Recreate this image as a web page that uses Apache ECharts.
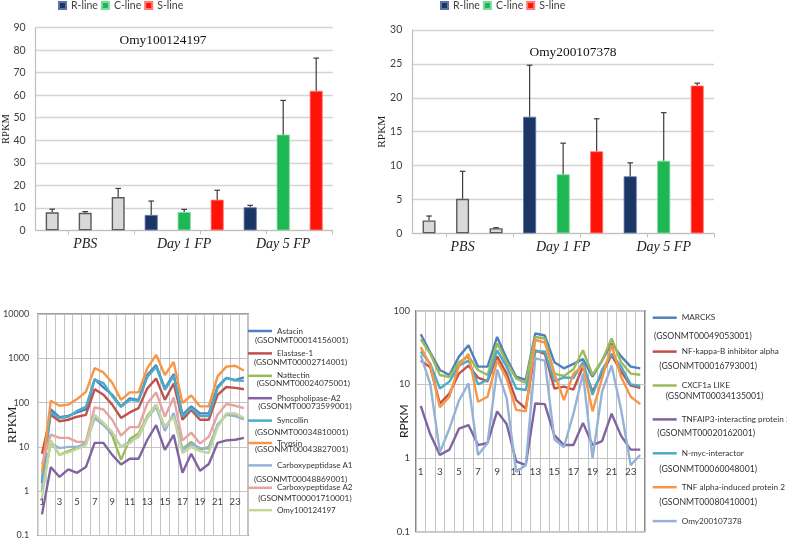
<!DOCTYPE html>
<html><head><meta charset="utf-8">
<script src="https://cdn.jsdelivr.net/npm/echarts@6/dist/echarts.min.js"></script>
<style>html,body{margin:0;padding:0;background:#fff}#c{width:787px;height:540px}</style>
</head><body><div id="c"></div>
<script>
// ---------- DATA ----------
const groupLabels = ['', 'PBS', '', '', 'Day 1 FP', '', '', 'Day 5 FP', ''];
const lineNames = ['R-line', 'C-line', 'S-line'];
const slotGroup = [0, 0, 0, 1, 2, 3, 1, 2, 3]; // 0 = PBS (grey), 1 = R, 2 = C, 3 = S

const gene1Title = 'Omy100124197';
const gene1Mean = [8.0, 7.8, 14.8, 6.8, 8.1, 13.6, 10.2, 42.5, 62.0];
const gene1Sd   = [1.4, 0.5, 3.8, 6.2, 1.2, 4.2, 0.9, 15.2, 14.5];

const gene2Title = 'Omy200107378';
const gene2Mean = [1.9, 5.1, 0.75, 17.2, 8.7, 12.1, 8.4, 10.7, 21.8];
const gene2Sd   = [0.65, 4.05, 0.08, 7.6, 4.6, 4.8, 2.0, 7.1, 0.35];

const sampleLabels = ['1','2','3','4','5','6','7','8','9','10','11','12','13','14','15','16','17','18','19','20','21','22','23','24'];

const leftGeneNames = ['Astacin','Elastase-1','Nattectin','Phospholipase-A2','Syncollin','Trypsin','Carboxypeptidase A1','Carboxypeptidase A2','Omy100124197'];
const leftGeneIds = ['(GSONMT00014156001)','(GSONMT00002714001)','(GSONMT00024075001)','(GSONMT00073599001)','(GSONMT00034810001)','(GSONMT00043827001)','(GSONMT00048869001)','(GSONMT00001710001)'];
const astacin      = [1.5, 70, 47, 50, 60, 70, 340, 220, 150, 82, 125, 115, 420, 700, 210, 440, 53, 82, 57, 57, 230, 360, 320, 370];
const elastase1    = [7, 53, 38, 41, 48, 53, 200, 150, 90, 45, 60, 75, 210, 350, 115, 270, 41, 68, 41, 41, 150, 225, 215, 200];
const nattectin    = [1.0, 13, 6.6, 8, 9.5, 12, 48, 34, 18, 5.1, 15, 20, 50, 90, 28, 50, 9, 13, 8.7, 10, 30, 54, 50, 42];
const phospholipA2 = [0.3, 3.5, 2.1, 3.1, 2.6, 3.5, 12.3, 12.3, 6.6, 4, 5.4, 5.4, 14.5, 31, 8.6, 18.7, 2.6, 7, 2.9, 4.1, 12.3, 14, 14.5, 16];
const syncollin    = [1.8, 60, 45, 48, 65, 80, 330, 275, 140, 80, 115, 110, 380, 640, 195, 400, 48, 75, 50, 50, 210, 360, 320, 310];
const trypsin      = [2.6, 110, 85, 90, 120, 175, 600, 480, 280, 115, 170, 170, 600, 1200, 420, 830, 98, 145, 82, 82, 390, 650, 680, 530];
const carboxyA1    = [1.2, 12, 9.4, 10, 10, 12, 44, 31, 20, 10, 13, 17, 45, 80, 23, 58, 8.5, 11.5, 9.5, 9, 32, 53, 50, 43];
const carboxyA2    = [4, 19, 16, 16, 13, 13, 78, 70, 41, 18, 28, 28, 97, 170, 48, 130, 14, 21, 12, 17, 53, 93, 85, 75];
const omy1Line     = [0.7, 14, 6.5, 7.5, 9, 11, 53, 35, 22, 10, 12, 18, 45, 90, 28, 48, 7.3, 10, 8, 7.3, 28, 57, 57, 45];

const rightGeneNames = ['MARCKS','NF-kappa-B inhibitor alpha','CXCF1a LIKE','TNFAIP3-interacting protein 2','N-myc-interactor','TNF alpha-induced protein 2','Omy200107378'];
const rightGeneIds = ['(GSONMT00049053001)','(GSONMT00016793001)','(GSONMT00034135001)','(GSONMT00020162001)','(GSONMT00060048001)','(GSONMT00080410001)'];
const marcks   = [48, 27, 15.7, 13.4, 23.8, 34, 17.4, 17.4, 44, 22.5, 12.7, 11.5, 49, 46, 20, 16.5, 19, 22, 12.7, 21, 36, 24, 17.4, 16.5];
const nfkbia   = [21, 17, 5.5, 7.5, 14, 18, 12.3, 11, 24, 14, 6.1, 4.7, 29, 26, 8.8, 9.3, 8.5, 17.5, 8, 14, 25, 15, 9.6, 9];
const cxcf1a   = [41, 26, 13.4, 12.6, 20, 24, 15.7, 13.4, 36, 20, 12, 10.5, 44, 42, 14, 13, 16, 29, 13.4, 21, 42, 20, 14, 13.5];
const tnfaip3  = [5.1, 2.1, 1.1, 1.3, 2.5, 2.8, 1.5, 1.6, 4.3, 2.9, 0.9, 0.8, 5.5, 5.4, 2.05, 1.5, 1.5, 3, 1.5, 1.7, 4, 2, 1.3, 1.3];
const nmyc     = [28, 19, 8.8, 10.9, 18, 21, 10, 11.5, 29, 17.4, 8.8, 8.4, 28, 28, 11, 12.4, 12.2, 20, 7.2, 15.7, 26, 17.4, 10, 9.5];
const tnfaip2  = [32, 18, 4.9, 6.8, 18, 25.8, 5.8, 6.8, 21, 12, 4.5, 4.3, 40, 37, 14, 6.1, 14, 18, 4.3, 12, 34, 12.6, 6.8, 5.4];
const omy2Line = [25, 10, 1.2, 2.5, 6, 10.3, 1.1, 1.6, 16, 6.5, 0.65, 0.8, 22.5, 21, 1.8, 1.4, 4, 14, 1.0, 8, 18, 4.5, 0.8, 1.1];

// ---------- STYLE / LAYOUT ----------
const SANS = 'Lato, "Noto Sans", sans-serif';
const SERIF = '"Liberation Serif", "Times New Roman", serif';
const TXT = '#404040';
const barStyles = [
  {color: '#D9D9D9', borderColor: '#5A5A5A', borderWidth: 1.4},
  {color: '#1B3565', borderColor: '#5B74A8', borderWidth: 0.8},
  {color: '#1DB753', borderColor: '#7FD89C', borderWidth: 0.8},
  {color: '#FF1208', borderColor: '#FF7A70', borderWidth: 0.8}
];
const leftColors = ['#4F81BD','#C0504D','#9BBB59','#8064A2','#4BACC6','#F79646','#95B3D7','#E6A3A1','#C3D69B'];
const rightColors = ['#4F81BD','#C0504D','#9BBB59','#8064A2','#4BACC6','#F79646','#95B3D7'];

const grids = [
  {left: 35.7, top: 27.7, width: 297, height: 202.6},
  {left: 412.3, top: 30, width: 301.7, height: 203.3},
  {left: 36.7, top: 314, width: 211.6, height: 222.3, show: true, borderColor: '#3A3A3A', borderWidth: 1.2},
  {left: 416, top: 310.7, width: 229, height: 221, show: true, borderColor: '#3A3A3A', borderWidth: 1.2}
];

function barXAxis(gi) {
  return {
    type: 'category', gridIndex: gi, data: groupLabels, boundaryGap: true,
    axisLine: {lineStyle: {color: '#BFBFBF', width: 1.2}},
    axisTick: {show: true, length: 4, interval: (i) => i % 2 === 1, lineStyle: {color: '#BFBFBF'}},
    axisLabel: {interval: 0, margin: 7, fontFamily: SERIF, fontStyle: 'italic', fontSize: 14, color: '#222'},
    splitLine: {show: false}
  };
}
function barYAxis(gi, max, interval, nameSize, nameGap) {
  return {
    type: 'value', gridIndex: gi, min: 0, max: max, interval: interval,
    axisLine: {show: true, lineStyle: {color: '#BFBFBF', width: 1.2}},
    axisTick: {show: false},
    axisLabel: {margin: 10, fontFamily: SANS, fontSize: 10.5, color: TXT},
    splitLine: {lineStyle: {color: '#D4D4D4', width: 1.3}},
    name: 'RPKM', nameLocation: 'middle', nameGap: nameGap, nameMoveOverlap: false,
    nameTextStyle: {fontFamily: SERIF, fontSize: nameSize, color: '#222'}
  };
}
function lineXAxis(gi, offset, fontSize, margin) {
  return {
    type: 'category', gridIndex: gi, data: sampleLabels, boundaryGap: true, offset: offset,
    axisLine: {show: false}, axisTick: {show: false},
    axisLabel: {interval: 1, margin: margin, fontFamily: SANS, fontSize: fontSize, color: TXT},
    splitLine: {show: true, interval: 0, lineStyle: {color: '#C4C4C4', width: 1}}
  };
}
function logYAxis(gi, min, max, fontSize, margin, nameFont, nameSize, nameGap) {
  return {
    type: 'log', logBase: 10, gridIndex: gi, min: min, max: max,
    axisLine: {show: false}, axisTick: {show: false},
    axisLabel: {margin: margin, fontFamily: SANS, fontSize: fontSize, color: TXT,
      formatter: (v) => String(Number(Number(v).toPrecision(4)))},
    splitLine: {show: true, lineStyle: {color: '#C4C4C4', width: 1}},
    name: 'RPKM', nameLocation: 'middle', nameGap: nameGap, nameMoveOverlap: false,
    nameTextStyle: {fontFamily: nameFont, fontSize: nameSize, color: '#222'}
  };
}

function barSeries(ai, means) {
  const names = ['PBS'].concat(lineNames);
  return names.map((nm, g) => ({
    name: nm, type: 'bar', xAxisIndex: ai, yAxisIndex: ai, barWidth: 13, barGap: '-100%',
    data: means.map((v, i) => slotGroup[i] === g ? v : '-'),
    itemStyle: barStyles[g], emphasis: {disabled: true}, z: 2
  }));
}
function errSeries(ai, means, sds) {
  return {
    type: 'custom', xAxisIndex: ai, yAxisIndex: ai, z: 3, silent: true,
    data: means.map((m, i) => [i, m, m + sds[i]]),
    encode: {x: 0, y: [1, 2]},
    renderItem: (params, api) => {
      const i = api.value(0);
      const lo = api.coord([i, api.value(1)]);
      const hi = api.coord([i, api.value(2)]);
      const st = {stroke: '#3A3A3A', lineWidth: 1.2};
      return {type: 'group', children: [
        {type: 'line', shape: {x1: lo[0], y1: lo[1], x2: hi[0], y2: hi[1]}, style: st},
        {type: 'line', shape: {x1: hi[0] - 2.8, y1: hi[1], x2: hi[0] + 2.8, y2: hi[1]}, style: st}
      ]};
    }
  };
}
function lineSeries(ai, names, values, colors) {
  return names.map((n, k) => ({
    name: n, type: 'line', xAxisIndex: ai, yAxisIndex: ai, data: values[k],
    showSymbol: false, symbol: 'none', smooth: false,
    lineStyle: {width: 2.4, color: colors[k]}, itemStyle: {color: colors[k]},
    emphasis: {disabled: true}, z: 2
  }));
}

const leftValues = [astacin, elastase1, nattectin, phospholipA2, syncollin, trypsin, carboxyA1, carboxyA2, omy1Line];
const rightValues = [marcks, nfkbia, cxcf1a, tnfaip3, nmyc, tnfaip2, omy2Line];

const leftIdPos = [[255, 340], [254, 362], [256.7, 383.7], [258.3, 406], [255, 432.7], [255, 449.7], [254, 479.3], [258.3, 498.3]];
const rightIdPos = [[654, 335.7], [659.3, 366.3], [665.7, 395.7], [657.3, 433.3], [659.3, 469.3], [659.3, 501.7]];

const graphics = [];
leftGeneIds.forEach((t, i) => graphics.push({type: 'text', x: leftIdPos[i][0], y: leftIdPos[i][1], silent: true,
  style: {text: t, fill: '#333', font: '8.3px ' + SANS, verticalAlign: 'middle', align: 'left'}}));
rightGeneIds.forEach((t, i) => graphics.push({type: 'text', x: rightIdPos[i][0], y: rightIdPos[i][1], silent: true,
  style: {text: t, fill: '#333', font: '8.7px ' + SANS, verticalAlign: 'middle', align: 'left'}}));

const option = {
  animation: false,
  backgroundColor: '#fff',
  title: [
    {text: gene1Title, left: 163, top: 34, textAlign: 'center', padding: 0,
     textStyle: {fontFamily: SERIF, fontWeight: 'normal', fontSize: 13.4, color: '#111'}},
    {text: gene2Title, left: 573, top: 46, textAlign: 'center', padding: 0,
     textStyle: {fontFamily: SERIF, fontWeight: 'normal', fontSize: 13.4, color: '#111'}}
  ],
  legend: [
    {left: 58, top: 0, padding: 0, itemWidth: 7, itemHeight: 7, itemGap: 3, icon: 'rect', selectedMode: false,
     data: lineNames, textStyle: {fontFamily: SANS, fontSize: 10.5, color: TXT, lineHeight: 10}},
    {left: 440, top: 0, padding: 0, itemWidth: 7, itemHeight: 7, itemGap: 3, icon: 'rect', selectedMode: false,
     data: lineNames, textStyle: {fontFamily: SANS, fontSize: 10.5, color: TXT, lineHeight: 10}},
    {left: 248, top: 325, orient: 'vertical', padding: 0, itemWidth: 24, itemHeight: 2.5, itemGap: 10.4, icon: 'rect',
     selectedMode: false, data: leftGeneNames, textStyle: {fontFamily: SANS, fontSize: 8, color: '#333', lineHeight: 12}},
    {left: 652.7, top: 311.7, orient: 'vertical', padding: 0, itemWidth: 24, itemHeight: 2.5, itemGap: 21.9, icon: 'rect',
     selectedMode: false, data: rightGeneNames, textStyle: {fontFamily: SANS, fontSize: 8.2, color: '#333', lineHeight: 12}}
  ],
  grid: grids,
  xAxis: [
    barXAxis(0), barXAxis(1),
    lineXAxis(2, -222.3 / 5, 9.5, 6),
    lineXAxis(3, -221 / 3, 10, 9)
  ],
  yAxis: [
    barYAxis(0, 90, 10, 10.5, 23.5),
    barYAxis(1, 30, 5, 11.3, 24.5),
    logYAxis(2, 0.1, 10000, 9, 8.5, SERIF, 13, 18.5),
    logYAxis(3, 0.1, 100, 9.5, 6, SANS, 12, 6)
  ],
  graphic: graphics,
  series: [].concat(
    barSeries(0, gene1Mean), [errSeries(0, gene1Mean, gene1Sd)],
    barSeries(1, gene2Mean), [errSeries(1, gene2Mean, gene2Sd)],
    lineSeries(2, leftGeneNames, leftValues, leftColors),
    lineSeries(3, rightGeneNames, rightValues, rightColors)
  )
};
const chart = echarts.init(document.getElementById('c'), null, {renderer: 'canvas'});
chart.setOption(option);
</script></body></html>
